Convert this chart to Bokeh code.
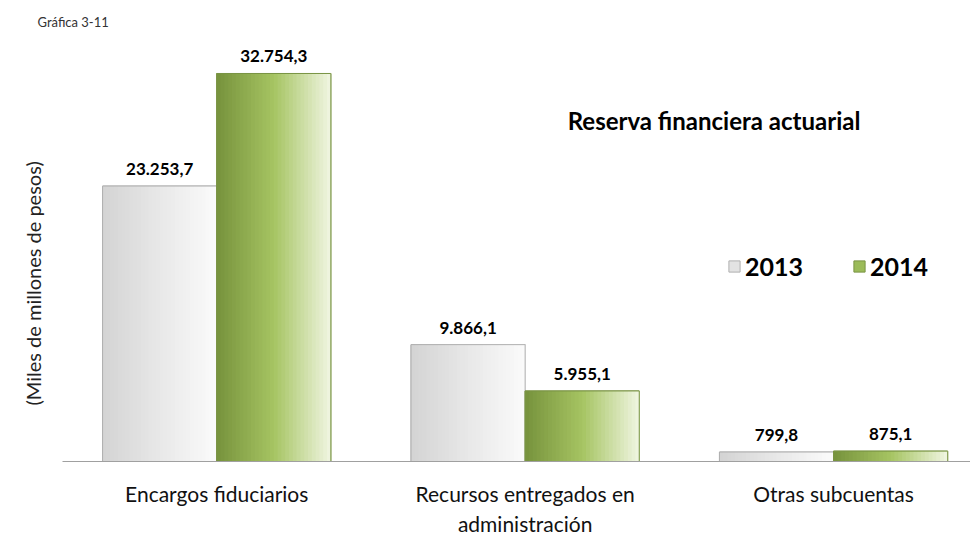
from bokeh.plotting import figure
from bokeh.models import (Range1d, FixedTicker, Label, Legend, LegendItem, ColumnDataSource, Title)
from bokeh.core.properties import value
from bokeh.embed import file_html
from bokeh.resources import INLINE

categories = ["Encargos fiduciarios", "Recursos entregados en\nadministración", "Otras subcuentas"]
years = ["2013", "2014"]
values_2013 = [23253.7, 9866.1, 799.8]
values_2014 = [32754.3, 5955.1, 875.1]

chart_label = "Gráfica 3-11"
title_text = "Reserva financiera actuarial"
y_label = "(Miles de millones de pesos)"

FONT = "Lato"

p = figure(frame_width=908, frame_height=421, output_backend="svg", toolbar_location=None,
           x_range=Range1d(-0.5, 2.444), y_range=Range1d(0, 35540),
           min_border_left=62, min_border_right=0, min_border_top=40, min_border_bottom=60)
p.xgrid.visible = False
p.ygrid.visible = False
p.outline_line_color = None
p.background_fill_color = "white"
p.border_fill_color = "white"

p.title.text = chart_label
p.title.text_font = FONT
p.title.text_font_size = "13px"
p.title.text_font_style = "normal"
p.title.text_color = "#333333"
p.title.align = "left"
p.title.offset = -25
p.title.standoff = 22

def fmt(v):
    s = f"{v:,.1f}"
    return s.replace(",", "X").replace(".", ",").replace("X", ".")

def lerp(c1, c2, t):
    return tuple(int(round(a + (b - a) * t)) for a, b in zip(c1, c2))

def grad(stops, t):
    for (t0, c0), (t1, c1) in zip(stops, stops[1:]):
        if t <= t1:
            return lerp(c0, c1, (t - t0) / (t1 - t0) if t1 > t0 else 0)
    return stops[-1][1]

def hexc(c):
    return "#%02x%02x%02x" % c

bw = 0.37
offsets = [-bw / 2, bw / 2]
series = [values_2013, values_2014]
base_cols = ["#e3e3e3", "#9bbb59"]
line_cols = ["#b0b0b0", "#7a9444"]
stops_list = [
    [(0.0, (212, 212, 212)), (0.5, (232, 232, 232)), (1.0, (250, 250, 250))],
    [(0.0, (120, 148, 62)), (0.5, (166, 196, 98)), (1.0, (238, 244, 222))],
]
N = 30
xs = list(range(len(categories)))

legend_items = []
for si, (vals, off) in enumerate(zip(series, offsets)):
    xcent = [x + off for x in xs]
    src = ColumnDataSource(dict(x=xcent, top=vals))
    r = p.vbar(x="x", top="top", width=bw, bottom=0, source=src,
               fill_color=base_cols[si], line_color=line_cols[si], line_width=1)
    legend_items.append(LegendItem(label=years[si], renderers=[r]))
    step = bw / N
    for k in range(N):
        t = k / (N - 1)
        w = bw - k * step
        sx = [x + bw / 2 - w / 2 for x in xcent]
        p.vbar(x=sx, top=vals, width=w, bottom=0,
               fill_color=hexc(grad(stops_list[si], t)), line_color=None)
    p.vbar(x=xcent, top=vals, width=bw, bottom=0, fill_color=None,
           line_color=line_cols[si], line_width=1)
    p.text(x=xcent, y=vals, text=[fmt(v) for v in vals], text_align="center",
           text_baseline="bottom", y_offset=-11, text_font=value(FONT),
           text_font_style="bold", text_font_size="17px", text_color="#000000")

legend = Legend(items=legend_items, orientation="horizontal", location=(665, 180),
                label_text_font=FONT, label_text_font_size="25px", label_text_font_style="bold",
                label_text_color="#000000", glyph_width=14, glyph_height=14, spacing=49,
                border_line_color=None, background_fill_alpha=0, padding=0, margin=0,
                label_standoff=4)
p.add_layout(legend, "center")

p.add_layout(Label(x=1.138, y=28786, text=title_text, text_font=FONT, text_font_style="bold",
                   text_font_size="24px", text_baseline="middle", text_color="#000000"))

p.xaxis.ticker = FixedTicker(ticks=xs)
p.xaxis.major_label_overrides = {i: c for i, c in enumerate(categories)}
p.xaxis.major_tick_line_color = None
p.xaxis.minor_tick_line_color = None
p.xaxis.axis_line_color = "#a0a0a0"
p.xaxis.major_label_text_font = FONT
p.xaxis.major_label_text_font_size = "21px"
p.xaxis.major_label_text_color = "#111111"
p.xaxis.major_label_standoff = 13

p.yaxis.visible = False

ytitle = Title(text=y_label, align="left", offset=56, standoff=36, text_font=FONT,
               text_font_size="20px", text_font_style="normal", text_color="#222222")
p.add_layout(ytitle, "left")

open("out.html", "w").write(file_html(p, INLINE))
